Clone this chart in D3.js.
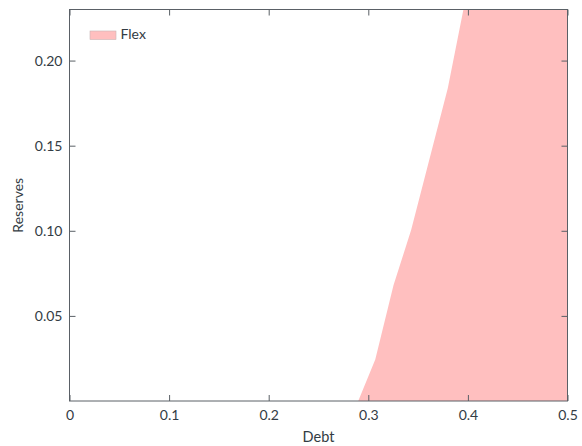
<!DOCTYPE html>
<html>
<head>
<meta charset="utf-8">
<script src="https://cdn.jsdelivr.net/npm/d3@7"></script>
<style>
  html, body { margin: 0; padding: 0; background: #fff; }
  svg { display: block; }
  text { font-family: Lato, "DejaVu Sans", sans-serif; fill: #333c44; }
</style>
</head>
<body>
<svg id="chart" width="582" height="446"></svg>
<script>
// Boundary of the "Flex" region: for each reserve level, the minimum debt
const boundaryDebt     = [0.2899, 0.307, 0.3253, 0.343, 0.3798, 0.3955, 0.40];
const boundaryReserves = [0.0,    0.0244, 0.068, 0.1004, 0.1838, 0.230, 0.245];
const xTicks = [0, 0.1, 0.2, 0.3, 0.4, 0.5];
const yTicks = [0.05, 0.10, 0.15, 0.20];
const seriesName = "Flex";
const debtMax = 0.5;

const margin = { left: 69.5, right: 582 - 567.5, top: 9.5, bottom: 446 - 401 };
const W = 582, H = 446;
const iw = W - margin.left - margin.right;
const ih = H - margin.top - margin.bottom;

const svg = d3.select("#chart");
const g = svg.append("g").attr("transform", `translate(${margin.left},${margin.top})`);

const x = d3.scaleLinear().domain([0, 0.5]).range([0, iw]);
const y = d3.scaleLinear().domain([0, 0.23]).range([ih, 0]);

svg.append("defs").append("clipPath").attr("id", "plotclip")
  .append("rect").attr("width", iw).attr("height", ih);

const pts = boundaryDebt.map((d, i) => ({ debt: d, res: boundaryReserves[i] }));

const area = d3.area()
  .y(d => y(d.res))
  .x0(d => x(d.debt))
  .x1(() => x(debtMax));

g.append("path")
  .datum(pts)
  .attr("clip-path", "url(#plotclip)")
  .attr("fill", "#ffbfbf")
  .attr("d", area);

// Frame with inward ticks on all four sides
const axisColor = "#5a6066";
const tickLen = 6;
function styleAxis(sel) {
  sel.select(".domain").remove();
  sel.selectAll(".tick line").attr("stroke", axisColor).attr("stroke-width", 1);
  sel.selectAll(".tick text").style("font-size", "14px").attr("fill", "#333c44");
}

g.append("g").attr("transform", `translate(0,${ih})`)
  .call(d3.axisBottom(x).tickValues(xTicks).tickSizeInner(-tickLen).tickSizeOuter(0)
        .tickPadding(9).tickFormat(d => d === 0 ? "0" : d3.format(".1f")(d)))
  .call(styleAxis);
g.append("g")
  .call(d3.axisTop(x).tickValues(xTicks).tickSizeInner(-tickLen).tickSizeOuter(0).tickFormat(""))
  .call(styleAxis);
g.append("g")
  .call(d3.axisLeft(y).tickValues(yTicks).tickSizeInner(-tickLen).tickSizeOuter(0)
        .tickPadding(7).tickFormat(d3.format(".2f")))
  .call(styleAxis);
g.append("g").attr("transform", `translate(${iw},0)`)
  .call(d3.axisRight(y).tickValues(yTicks).tickSizeInner(-tickLen).tickSizeOuter(0).tickFormat(""))
  .call(styleAxis);

g.append("rect").attr("width", iw).attr("height", ih)
  .attr("fill", "none").attr("stroke", axisColor).attr("stroke-width", 1);

// Axis titles
g.append("text").attr("x", iw / 2).attr("y", ih + 40.5)
  .attr("text-anchor", "middle").style("font-size", "14.5px").text("Debt");
g.append("text")
  .attr("transform", `translate(${23 - margin.left},${ih / 2}) rotate(-90)`)
  .attr("text-anchor", "middle").style("font-size", "14px").text("Reserves");

// Legend
const lg = g.append("g").attr("transform", `translate(${90 - margin.left},${31 - margin.top})`);
lg.append("rect").attr("width", 26).attr("height", 8.5)
  .attr("fill", "#ffbfbf").attr("stroke", "#c8b4b4").attr("stroke-width", 0.6);
lg.append("text").attr("x", 30.5).attr("y", 8.3).style("font-size", "14px").text(seriesName);
</script>
</body>
</html>
